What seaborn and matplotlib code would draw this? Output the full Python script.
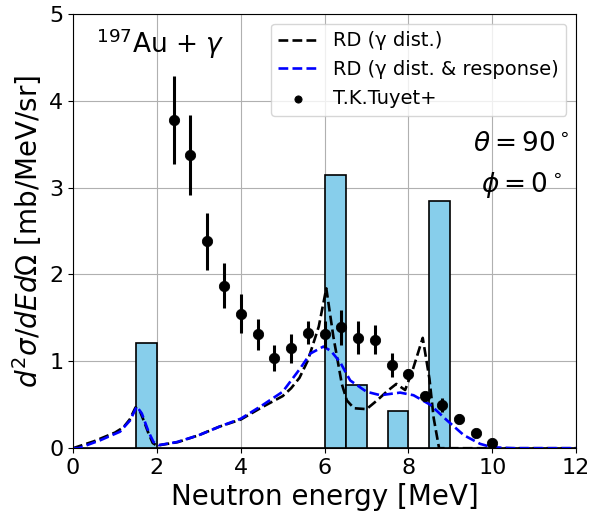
import numpy as np
import pandas as pd
import matplotlib
matplotlib.use("Agg")
import matplotlib.pyplot as plt
import seaborn as sns

# histogram bins (left edge, width 0.5 MeV) and heights
bin_left = [1.5, 6.0, 6.5, 7.5, 8.5]
bin_height = [1.21, 3.14, 0.73, 0.43, 2.85]

# RD (gamma dist.) curve
rd_x = [0.0, 0.5, 1.0, 1.2, 1.35, 1.49, 1.6, 1.7, 1.8, 1.9, 2.0, 2.5, 3.0, 3.5, 4.0,
        4.5, 5.0, 5.2, 5.4, 5.6, 5.86, 6.04, 6.21, 6.41, 6.53, 6.7, 7.0, 7.25,
        7.5, 7.71, 7.92, 8.1, 8.34, 8.5, 8.6, 8.73, 9.0, 10.0, 12.0]
rd_y = [0.0, 0.08, 0.18, 0.24, 0.33, 0.47, 0.42, 0.3, 0.17, 0.06, 0.03, 0.07, 0.15, 0.25, 0.33,
        0.47, 0.6, 0.69, 0.81, 1.01, 1.40, 1.84, 1.28, 0.74, 0.55, 0.46, 0.45, 0.55,
        0.66, 0.74, 0.67, 0.9, 1.27, 0.8, 0.35, 0.0, 0.0, 0.0, 0.0]

# RD (gamma dist. & response) curve
rdr_x = [0.0, 0.13, 0.64, 1.12, 1.36, 1.52, 1.64, 1.8, 1.92, 2.04, 2.47, 3.0, 3.5, 4.0,
         4.5, 5.0, 5.42, 5.66, 5.97, 6.15, 6.37, 6.61, 7.0, 7.33, 7.8, 8.12, 8.52,
         8.92, 9.32, 9.71, 10.0, 10.5, 12.0]
rdr_y = [0.0, 0.0, 0.09, 0.19, 0.32, 0.48, 0.40, 0.19, 0.07, 0.035, 0.07, 0.15, 0.25, 0.34,
         0.49, 0.65, 0.92, 1.09, 1.17, 1.12, 0.99, 0.78, 0.65, 0.61, 0.64, 0.61, 0.5,
         0.32, 0.15, 0.05, 0.01, 0.0, 0.0]

# experimental points (T.K.Tuyet+)
exp_x = [2.4, 2.8, 3.2, 3.6, 4.0, 4.4, 4.8, 5.2, 5.6, 6.0, 6.4, 6.8, 7.2, 7.6,
         8.0, 8.4, 8.8, 9.2, 9.6, 10.0]
exp_y = [3.78, 3.38, 2.38, 1.87, 1.55, 1.31, 1.04, 1.15, 1.33, 1.31, 1.39, 1.27, 1.25, 0.96,
         0.85, 0.60, 0.50, 0.34, 0.18, 0.06]
exp_err = [0.51, 0.46, 0.33, 0.26, 0.22, 0.18, 0.15, 0.17, 0.13, 0.16, 0.2, 0.19, 0.17, 0.14,
           0.06, 0.05, 0.08, 0.05, 0.02, 0.02]

fig, ax = plt.subplots(figsize=(5.94, 5.14), dpi=100)
fig.subplots_adjust(left=0.123, right=0.97, top=0.973, bottom=0.128)

ax.grid(True, color="#b0b0b0", linewidth=0.8)
ax.set_axisbelow(True)

hist_df = pd.DataFrame({"energy": [b + 0.25 for b in bin_left], "height": bin_height})
sns.histplot(data=hist_df, x="energy", weights="height", binwidth=0.5, binrange=(0, 12),
             color="skyblue", edgecolor="black", linewidth=1.2, alpha=1.0, ax=ax)

sns.lineplot(x=rd_x, y=rd_y, color="black", linestyle="--", linewidth=1.9,
             label="RD (\u03b3 dist.)", ax=ax, sort=False, estimator=None)
sns.lineplot(x=rdr_x, y=rdr_y, color="blue", linestyle="--", linewidth=1.9,
             label="RD (\u03b3 dist. & response)", ax=ax, sort=False, estimator=None)

ax.errorbar(exp_x, exp_y, yerr=exp_err, fmt="none", ecolor="black", elinewidth=2.2, zorder=4)
sns.scatterplot(x=exp_x, y=exp_y, color="black", s=55, edgecolor="black",
                label="T.K.Tuyet+", ax=ax, zorder=5)

ax.set_xlim(0, 12)
ax.set_ylim(0, 5)
ax.set_xticks(range(0, 13, 2))
ax.set_yticks(range(0, 6))
ax.tick_params(labelsize=16)
ax.set_xlabel("Neutron energy [MeV]", fontsize=20)
ax.set_ylabel(r"$d^2\sigma/dEd\Omega$ [mb/MeV/sr]", fontsize=20)

ax.text(0.045, 0.97, r"$^{197}$Au + $\gamma$", transform=ax.transAxes,
        fontsize=19, ha="left", va="top")
ax.text(10.7, 3.5, r"$\theta = 90^\circ$", fontsize=19, ha="center", va="center")
ax.text(10.7, 3.03, r"$\phi = 0^\circ$", fontsize=19, ha="center", va="center")

ax.legend(loc="upper right", fontsize=14, markerscale=0.7)

fig.savefig("out.png", dpi=100)
